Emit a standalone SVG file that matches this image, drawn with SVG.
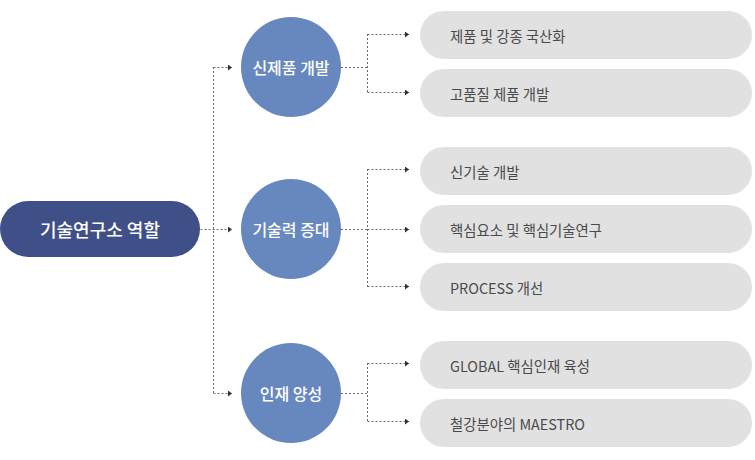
<svg xmlns="http://www.w3.org/2000/svg" width="755" height="460" viewBox="0 0 755 460">
<defs>
<style>
.main{fill:#3f5089}
.cir{fill:#6787bf}
.pill{fill:#e1e1e1}
.wt{fill:#ffffff;font-family:"Noto Sans CJK KR","Noto Sans",sans-serif;text-anchor:middle;dominant-baseline:central}
.mt{font-size:18px;font-weight:500}
.ct{font-size:16px;font-weight:500}
.pt{fill:#4a4a4a;font-family:"Noto Sans CJK KR","Noto Sans",sans-serif;font-size:14.4px;dominant-baseline:central}
.con{fill:none;stroke:#6a6a6a;stroke-width:1;stroke-dasharray:2 2}
</style>
<marker id="ah" markerWidth="5" markerHeight="6" refX="4" refY="3" orient="auto" markerUnits="userSpaceOnUse">
<path d="M0,0 L4,3 L0,6 Z" fill="#333"/>
</marker>
</defs>
<rect width="755" height="460" fill="#ffffff"/>
<g id="connectors">
<path class="con" d="M200.5,229.5 H232" marker-end="url(#ah)"/>
<path class="con" d="M213.5,67 V393"/>
<path class="con" d="M213.5,67.5 H232" marker-end="url(#ah)"/>
<path class="con" d="M213.5,393.5 H232" marker-end="url(#ah)"/>
<path class="con" d="M341,67.5 H367.5 M367.5,34 V93"/>
<path class="con" d="M367.5,34.5 H409" marker-end="url(#ah)"/>
<path class="con" d="M367.5,92.5 H409" marker-end="url(#ah)"/>
<path class="con" d="M341,229.5 H367.5 M367.5,169 V287"/>
<path class="con" d="M367.5,169.5 H409" marker-end="url(#ah)"/>
<path class="con" d="M367.5,229.5 H409" marker-end="url(#ah)"/>
<path class="con" d="M367.5,286.5 H409" marker-end="url(#ah)"/>
<path class="con" d="M341,393.5 H367.5 M367.5,363 V422"/>
<path class="con" d="M367.5,363.5 H409" marker-end="url(#ah)"/>
<path class="con" d="M367.5,421.5 H409" marker-end="url(#ah)"/>
</g>
<g id="root">
<rect class="main" x="0" y="201" width="200" height="56" rx="28"/>
<text class="wt mt" x="100" y="229">기술연구소 역할</text>
</g>
<g id="n1">
<circle class="cir" cx="291" cy="67" r="50"/>
<text class="wt ct" x="291" y="67">신제품 개발</text>
</g>
<g id="n2">
<circle class="cir" cx="291" cy="229" r="50"/>
<text class="wt ct" x="291" y="229">기술력 증대</text>
</g>
<g id="n3">
<circle class="cir" cx="291" cy="393" r="50"/>
<text class="wt ct" x="291" y="393">인재 양성</text>
</g>
<g id="p1"><rect class="pill" x="420" y="11" width="332" height="48" rx="24"/><text class="pt" x="450" y="35">제품 및 강종 국산화</text></g>
<g id="p2"><rect class="pill" x="420" y="69" width="332" height="48" rx="24"/><text class="pt" x="450" y="93">고품질 제품 개발</text></g>
<g id="p3"><rect class="pill" x="420" y="147" width="332" height="48" rx="24"/><text class="pt" x="450" y="171">신기술 개발</text></g>
<g id="p4"><rect class="pill" x="420" y="205" width="332" height="48" rx="24"/><text class="pt" x="450" y="229">핵심요소 및 핵심기술연구</text></g>
<g id="p5"><rect class="pill" x="420" y="263" width="332" height="48" rx="24"/><text class="pt" x="450" y="287">PROCESS 개선</text></g>
<g id="p6"><rect class="pill" x="420" y="341" width="332" height="48" rx="24"/><text class="pt" x="450" y="365">GLOBAL 핵심인재 육성</text></g>
<g id="p7"><rect class="pill" x="420" y="399" width="332" height="48" rx="24"/><text class="pt" x="450" y="423">철강분야의 MAESTRO</text></g>
</svg>
